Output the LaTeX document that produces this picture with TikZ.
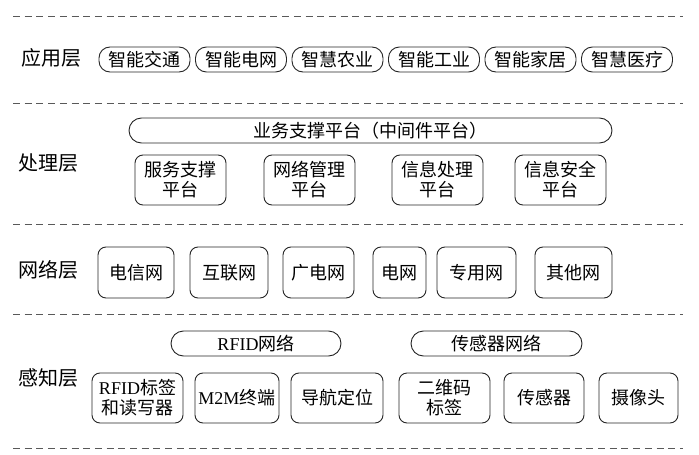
\documentclass[tikz,border=0pt]{standalone}
\usepackage{fontspec}
\setmainfont{Liberation Serif}
\newfontfamily\cjk{Noto Sans CJK SC}
\usetikzlibrary{shapes.misc}
\tikzset{
  sep/.style={draw=black!65, line width=0.9pt, dash pattern=on 7pt off 4.7pt},
  layer/.style={font=\cjk\fontsize{20}{22}\selectfont, inner sep=0pt},
  pill/.style={draw=black!85, line width=0.9pt, rounded corners=11pt, minimum height=25pt, inner sep=0pt, font=\cjk\fontsize{18}{20}\selectfont},
  bigpill/.style={draw=black!85, line width=0.9pt, rounded rectangle, minimum height=25pt, inner sep=0pt, font=\cjk\fontsize{18}{20}\selectfont},
  box/.style={draw=black!85, line width=0.9pt, rounded corners=8pt, inner sep=0pt, align=center, font=\cjk\fontsize{18}{20}\selectfont},
}
\begin{document}
\begin{tikzpicture}[x=1pt,y=-1pt]
\useasboundingbox (0,0) rectangle (699,455);
% separators
\foreach \yy/\nm in {16/s1,103/s2,224/s3,314/s4,448/s5}{
  \coordinate (\nm L) at (13,\yy);
  \coordinate (\nm R) at (683,\yy);
  \draw[sep] (\nm L) -- (\nm R);
}
% layer labels
\node[layer] (l1) at (51,58) {应用层};
\node[layer] (l2) at (48,163) {处理层};
\node[layer] (l3) at (48,270) {网络层};
\node[layer] (l4) at (48,378) {感知层};
% application layer
\node[pill, minimum width=91pt] (a1) at (144.5,59.5) {智能交通};
\node[pill, minimum width=91pt] (a2) at (241,59.5) {智能电网};
\node[pill, minimum width=91pt] (a3) at (337.5,59.5) {智慧农业};
\node[pill, minimum width=91pt] (a4) at (434,59.5) {智能工业};
\node[pill, minimum width=91pt] (a5) at (530.5,59.5) {智能家居};
\node[pill, minimum width=91pt] (a6) at (627,59.5) {智慧医疗};
% processing layer
\node[bigpill, minimum width=483pt] (mw) at (370.5,130.5) {业务支撑平台（中间件平台）};
\node[box, minimum width=91pt, minimum height=50pt] (p1) at (180.5,180) {服务支撑\\平台};
\node[box, minimum width=91pt, minimum height=50pt] (p2) at (309.5,180) {网络管理\\平台};
\node[box, minimum width=91pt, minimum height=50pt] (p3) at (437.5,180) {信息处理\\平台};
\node[box, minimum width=91pt, minimum height=50pt] (p4) at (560.5,180) {信息安全\\平台};
% network layer
\node[box, minimum width=76pt, minimum height=51pt] (n1) at (136,272.5) {电信网};
\node[box, minimum width=78pt, minimum height=51pt] (n2) at (229,272.5) {互联网};
\node[box, minimum width=71pt, minimum height=51pt] (n3) at (318.5,272.5) {广电网};
\node[box, minimum width=53pt, minimum height=51pt] (n4) at (399.5,272.5) {电网};
\node[box, minimum width=79pt, minimum height=51pt] (n5) at (476.5,272.5) {专用网};
\node[box, minimum width=77pt, minimum height=51pt] (n6) at (573.5,272.5) {其他网};
% sensing layer
\node[bigpill, minimum width=170pt] (rf) at (256,343.5) {{\rmfamily RFID}网络};
\node[bigpill, minimum width=171pt] (sn) at (496.5,343.5) {传感器网络};
\node[box, minimum width=91pt, minimum height=50pt] (g1) at (137.5,398) {{\rmfamily RFID}标签\\和读写器};
\node[box, minimum width=84pt, minimum height=50pt] (g2) at (237,398) {{\rmfamily M2M}终端};
\node[box, minimum width=92pt, minimum height=50pt] (g3) at (337,398) {导航定位};
\node[box, minimum width=91pt, minimum height=50pt] (g4) at (444.5,398) {二维码\\标签};
\node[box, minimum width=80pt, minimum height=50pt] (g5) at (544,398) {传感器};
\node[box, minimum width=79pt, minimum height=50pt] (g6) at (638.5,398) {摄像头};
\end{tikzpicture}
\end{document}
